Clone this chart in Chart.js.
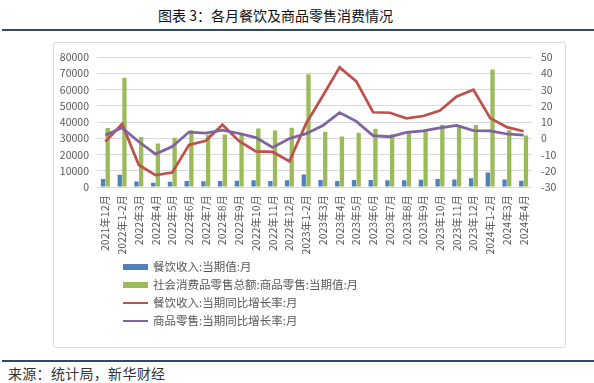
<!DOCTYPE html>
<html>
<head>
<meta charset="utf-8">
<script src="https://cdn.jsdelivr.net/npm/chart.js@4.4.1/dist/chart.umd.min.js"></script>
<style>
  body { margin: 0; background: #fff; font-family: "Noto Sans CJK SC", sans-serif; }
  #page { position: relative; width: 594px; height: 383px; overflow: hidden; }
  #title { position: absolute; left: 158px; top: 5px; font-size: 14px; font-weight: normal; color: #111; white-space: pre; }
  .rule { position: absolute; left: 2px; right: 0; height: 2px; background: #2e4a66; }
  #frame { position: absolute; left: 53px; top: 42px; width: 511px; height: 304px; border: 1px solid #dcdcdc; border-radius: 3px; }
  #chartBox { position: absolute; left: 53px; top: 42px; width: 512px; height: 305px; }
  #legend { position: absolute; left: 123px; top: 257px; font-size: 11.5px; color: #595959; }
  .item { height: 18px; line-height: 18px; white-space: nowrap; }
  .swatch { display: inline-block; width: 25px; vertical-align: middle; margin-right: 5px; position: relative; top: -1px; }
  #source { position: absolute; left: 8px; top: 363px; font-size: 14px; color: #333; letter-spacing: 0.3px; }
</style>
</head>
<body>
<div id="page">
  <div id="title">图表 3：各月餐饮及商品零售消费情况</div>
  <div class="rule" style="top:29px"></div>
  <div id="frame"></div>
  <div id="chartBox"><canvas id="retailChart" width="512" height="305"></canvas></div>
  <div id="legend"></div>
  <div class="rule" style="top:360px"></div>
  <div id="source">来源：统计局，新华财经</div>
</div>
<script>
// Monthly data
const months = ['2021年12月', '2022年1-2月', '2022年3月', '2022年4月', '2022年5月', '2022年6月', '2022年7月',
    '2022年8月', '2022年9月', '2022年10月', '2022年11月', '2022年12月', '2023年1-2月', '2023年3月', '2023年4月',
    '2023年5月', '2023年6月', '2023年7月', '2023年8月', '2023年9月', '2023年10月', '2023年11月', '2023年12月',
    '2024年1-2月', '2024年3月', '2024年4月'];
const cateringValue = [4900, 7500, 3450, 2610, 3180, 3750, 3610, 3760, 3870, 4170, 3710, 4100, 7740,
    4370, 3750, 4290, 4370, 4180, 4230, 4410, 4890, 4670, 5330, 8870, 4670, 3920];
const goodsValue = [36370, 67340, 30780, 26870, 30370, 34990, 32260, 32430, 33400, 36100, 34910, 36480, 69580,
    34000, 31160, 33520, 36000, 32520, 33570, 35420, 38440, 37820, 38170, 72440, 35030, 31750];
const cateringYoY = [-2.0, 8.9, -16.4, -22.7, -21.1, -4.0, -1.5, 8.4, -1.7, -8.1, -8.4, -14.1, 9.2,
    26.3, 43.8, 35.1, 16.1, 15.8, 12.4, 13.8, 17.1, 25.8, 30.0, 12.5, 6.9, 4.4];
const goodsYoY = [2.0, 6.5, -2.1, -9.7, -5.0, 3.9, 3.2, 5.1, 3.0, 0.5, -5.6, -0.1, 2.9,
    7.9, 15.9, 10.5, 1.7, 1.0, 3.7, 4.6, 6.5, 8.0, 4.8, 4.6, 2.7, 2.0];
const leftTicks = { min: 0, max: 80000, step: 10000 };
const rightTicks = { min: -30, max: 50, step: 10 };

const tickFont = { family: '"Noto Sans CJK SC", sans-serif', size: 10.5 };
const tickColor = '#595959';

function drawChart() {
    const ctx = document.getElementById('retailChart').getContext('2d');
    const chart = new Chart(ctx, {
        data: {
            labels: months,
            datasets: [
                {
                    type: 'bar', label: '餐饮收入:当期值:月', data: cateringValue,
                    backgroundColor: '#4f81bd', yAxisID: 'y', order: 2,
                    barPercentage: 0.92, categoryPercentage: 0.56,
                },
                {
                    type: 'bar', label: '社会消费品零售总额:商品零售:当期值:月', data: goodsValue,
                    backgroundColor: '#9bbb59', yAxisID: 'y', order: 2,
                    barPercentage: 0.92, categoryPercentage: 0.56,
                },
                {
                    type: 'line', label: '餐饮收入:当期同比增长率:月', data: cateringYoY,
                    borderColor: '#c0504d', borderWidth: 2.75, pointRadius: 0, tension: 0,
                    yAxisID: 'y1', order: 1,
                },
                {
                    type: 'line', label: '商品零售:当期同比增长率:月', data: goodsYoY,
                    borderColor: '#8064a2', borderWidth: 2.75, pointRadius: 0, tension: 0,
                    yAxisID: 'y1', order: 0,
                },
            ],
        },
        options: {
            responsive: false,
            animation: false,
            layout: { padding: { top: 13, bottom: 90, left: 0, right: 0 } },
            plugins: { legend: { display: false }, tooltip: { enabled: false } },
            scales: {
                x: {
                    grid: { display: false, drawTicks: false },
                    border: { display: false },
                    ticks: { autoSkip: false, minRotation: 90, maxRotation: 90, padding: 8, font: tickFont, color: tickColor },
                    afterFit: s => { s.height = 70; },
                },
                y: {
                    position: 'left', min: leftTicks.min, max: leftTicks.max,
                    ticks: { stepSize: leftTicks.step, padding: 8, font: tickFont, color: tickColor, callback: v => String(v) },
                    grid: { color: '#d9d9d9', drawTicks: false },
                    border: { display: false },
                    afterFit: s => { s.width = 44; },
                },
                y1: {
                    position: 'right', min: rightTicks.min, max: rightTicks.max,
                    ticks: { stepSize: rightTicks.step, padding: 9, font: tickFont, color: tickColor, callback: v => String(v) },
                    grid: { display: false, drawTicks: false },
                    border: { display: false },
                    afterFit: s => { s.width = 33; },
                },
            },
        },
    });
    return chart;
}

// Legend list, one entry per row
function buildLegend(chart) {
    const legend = document.getElementById('legend');
    chart.data.datasets.forEach(ds => {
        const isBar = ds.type === 'bar';
        const color = isBar ? ds.backgroundColor : ds.borderColor;
        const h = isBar ? 6 : 2.5;
        legend.innerHTML += `<div class="item"><span class="swatch" style="height:${h}px;background:${color}"></span>${ds.label}</div>`;
    });
}

window.onload = () => {
    const chart = drawChart();
    buildLegend(chart);
};
</script>
</body>
</html>
